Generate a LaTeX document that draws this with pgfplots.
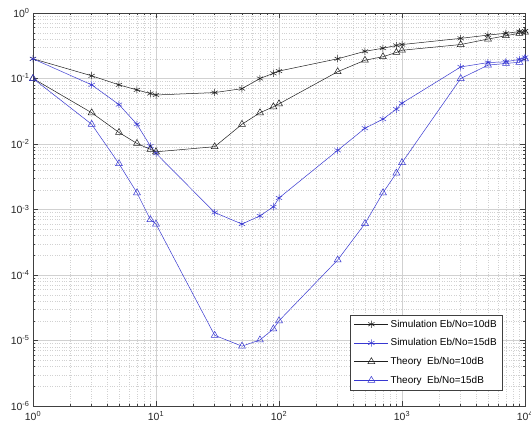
\documentclass[border=0pt]{standalone}
\usepackage{fontspec}
\setmainfont{Liberation Sans}
\usepackage{pgfplots}
\pgfplotsset{compat=1.18}
\definecolor{simblue}{rgb}{0.22,0.22,0.82}
\definecolor{simblack}{rgb}{0.12,0.12,0.12}
\definecolor{axgray}{rgb}{0.25,0.25,0.25}
\begin{document}
\begin{tikzpicture}
\begin{axis}[
  name=ax,
  scale only axis,
  width=492bp, height=393bp,
  xmode=log, ymode=log,
  xmin=1, xmax=10000, ymin=1e-6, ymax=1,
  xtick={1,10,100,1000,10000},
  xticklabels={10\textsuperscript{0},10\textsuperscript{1},10\textsuperscript{2},10\textsuperscript{3},10\textsuperscript{4}},
  ytick={1e-6,1e-5,1e-4,1e-3,1e-2,1e-1,1},
  yticklabels={10\textsuperscript{-6},10\textsuperscript{-5},10\textsuperscript{-4},10\textsuperscript{-3},10\textsuperscript{-2},10\textsuperscript{-1},10\textsuperscript{0}},
  minor xtick={2,3,4,5,6,7,8,9,20,30,40,50,60,70,80,90,200,300,400,500,600,700,800,900,2000,3000,4000,5000,6000,7000,8000,9000},
  minor ytick={2e-6,3e-6,4e-6,5e-6,6e-6,7e-6,8e-6,9e-6,2e-5,3e-5,4e-5,5e-5,6e-5,7e-5,8e-5,9e-5,2e-4,3e-4,4e-4,5e-4,6e-4,7e-4,8e-4,9e-4,2e-3,3e-3,4e-3,5e-3,6e-3,7e-3,8e-3,9e-3,0.02,0.03,0.04,0.05,0.06,0.07,0.08,0.09,0.2,0.3,0.4,0.5,0.6,0.7,0.8,0.9},
  grid=both,
  major grid style={color=black!18, line width=0.4pt},
  minor grid style={color=black!18, line width=0.4pt, dotted},
  tick align=inside,
  major tick length=5bp, minor tick length=2.5bp,
  tick style={color=axgray, line width=0.4pt},
  axis line style={color=axgray, line width=0.5pt},
  ticklabel style={font=\fontsize{10.5}{12}\selectfont, color=black!85},
  xticklabel style={yshift=-2bp},
  legend style={at={(0.955,0.041)}, anchor=south east, draw=axgray, fill=white,
    font=\fontsize{10}{12}\selectfont, row sep=6bp, inner xsep=4bp, inner ysep=3bp,
    cells={anchor=west}},
  legend image code/.code={\draw[mark repeat=2,mark phase=2] plot coordinates {(0cm,0cm) (0.6cm,0cm) (1.2cm,0cm)};},
  every axis plot/.append style={line width=0.5pt},
]
\addplot[color=simblack, mark=asterisk, mark size=3.6bp] coordinates {
(1,0.2) (3,0.11) (5,0.08) (7,0.067) (9,0.059) (10,0.056) (30,0.061) (50,0.07) (70,0.1) (90,0.12) (100,0.13)
(300,0.2) (500,0.26) (700,0.29) (900,0.32) (1000,0.33) (3000,0.41) (5000,0.46) (7000,0.49) (9000,0.52) (10000,0.53)};
\addlegendentry{Simulation Eb/No=10dB}
\addplot[color=simblue, mark=asterisk, mark size=3.6bp] coordinates {
(1,0.2) (3,0.08) (5,0.04) (7,0.02) (9,0.0093) (10,0.0072) (30,0.0009) (50,0.0006) (70,0.0008) (90,0.0011) (100,0.0015)
(300,0.008) (500,0.0174) (700,0.024) (900,0.034) (1000,0.042) (3000,0.15) (5000,0.175) (7000,0.18) (9000,0.196) (10000,0.21)};
\addlegendentry{Simulation Eb/No=15dB}
\addplot[color=simblack, mark=triangle, mark size=4bp] coordinates {
(1,0.1) (3,0.03) (5,0.015) (7,0.0102) (9,0.0083) (10,0.0076) (30,0.0091) (50,0.02) (70,0.03) (90,0.037) (100,0.041)
(300,0.127) (500,0.19) (700,0.215) (900,0.25) (1000,0.27) (3000,0.33) (5000,0.40) (7000,0.45) (9000,0.49) (10000,0.51)};
\addlegendentry{Theory\ \ Eb/No=10dB}
\addplot[color=simblue, mark=triangle, mark size=4bp] coordinates {
(1,0.1) (3,0.02) (5,0.005) (7,0.0018) (9,0.0007) (10,0.0006) (30,1.2e-5) (50,8.2e-6) (70,1.02e-5) (90,1.5e-5) (100,2.0e-5)
(300,1.7e-4) (500,6.1e-4) (700,1.8e-3) (900,3.6e-3) (1000,5.2e-3) (3000,0.1) (5000,0.16) (7000,0.17) (9000,0.177) (10000,0.2)};
\addlegendentry{Theory\ \ Eb/No=15dB}
\end{axis}
\pgfresetboundingbox
\path[use as bounding box] ([xshift=-33bp,yshift=-22bp]ax.south west) rectangle ([xshift=6bp,yshift=13bp]ax.north east);
\end{tikzpicture}
\end{document}
